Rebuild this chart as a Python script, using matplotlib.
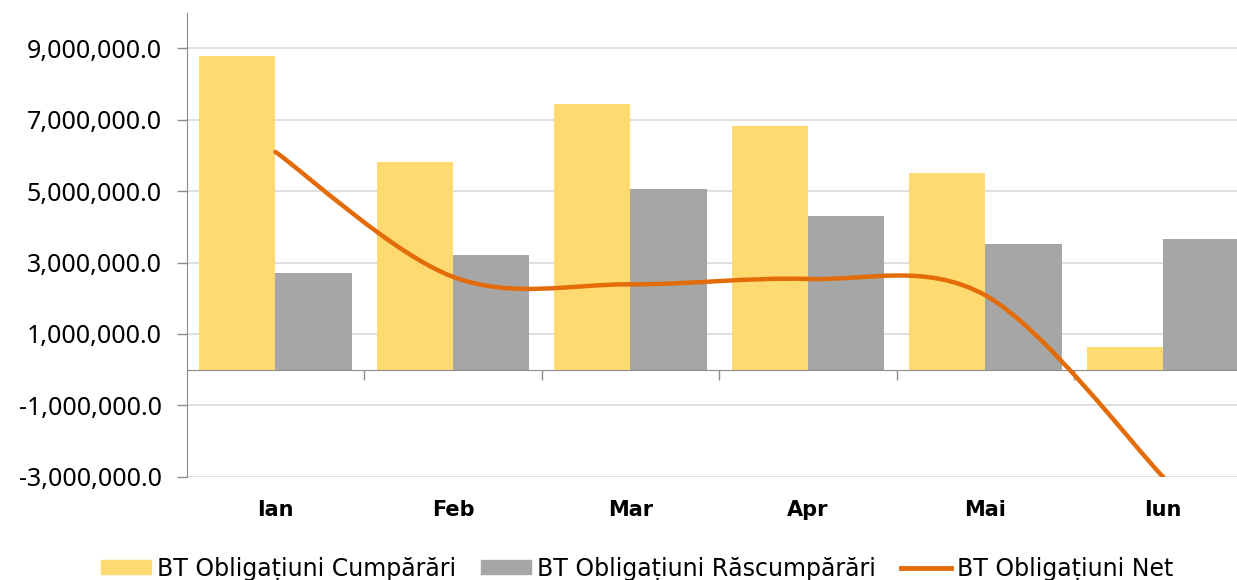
import numpy as np
import matplotlib
matplotlib.use('Agg')
import matplotlib.pyplot as plt
from matplotlib.path import Path
from matplotlib.patches import PathPatch
from matplotlib.lines import Line2D
from matplotlib.ticker import FuncFormatter

months = ['Ian', 'Feb', 'Mar', 'Apr', 'Mai', 'Iun']
cumparari = [8800000, 5820000, 7450000, 6830000, 5510000, 630000]
rascumparari = [2720000, 3200000, 5060000, 4300000, 3510000, 3650000]
net = [6100000, 2600000, 2390000, 2540000, 2080000, -3000000]

yticks = [-3000000, -1000000, 1000000, 3000000, 5000000, 7000000, 9000000]

c_yellow = '#FFDA71'
c_gray = '#A6A6A6'
c_orange = '#E36C09'

plt.rcParams['font.family'] = ['Noto Sans', 'DejaVu Sans']

fig = plt.figure(figsize=(12.37, 5.80), dpi=100)
ax = fig.add_axes([186.7 / 1237, 1 - 476.7 / 580, 1065 / 1237, (476.7 - 12.7) / 580])

x = np.arange(len(months))
w = 0.43
ax.bar(x - w / 2, cumparari, w, color=c_yellow, zorder=2)
ax.bar(x + w / 2, rascumparari, w, color=c_gray, zorder=2)

# smoothed line (Excel style bezier through the points)
pts = np.column_stack([x, net]).astype(float)
ext = np.vstack([pts[0], pts, pts[-1]])
verts = [tuple(pts[0])]
codes = [Path.MOVETO]
for i in range(1, len(ext) - 2):
    p0, p1, p2, p3 = ext[i - 1], ext[i], ext[i + 1], ext[i + 2]
    c1 = p1 + (p2 - p0) / 6
    c2 = p2 - (p3 - p1) / 6
    verts += [tuple(c1), tuple(c2), tuple(p2)]
    codes += [Path.CURVE4] * 3
ax.add_patch(PathPatch(Path(verts, codes), facecolor='none', edgecolor=c_orange,
                       lw=3.2, capstyle='round', zorder=3))

ax.set_xlim(-0.5, 5.5)
ax.set_ylim(-3000000, 10000000)
ax.set_yticks(yticks)
ax.yaxis.set_major_formatter(FuncFormatter(lambda v, p: f'{v:,.1f}'))
ax.grid(axis='y', color='#D9D9D9', lw=1.2, zorder=0)
ax.set_axisbelow(True)

for s in ['top', 'right']:
    ax.spines[s].set_visible(False)
ax.spines['left'].set_color('#8C8C8C')
ax.spines['bottom'].set_color('#8C8C8C')
ax.spines['bottom'].set_position(('data', 0))

ax.set_xticks(np.arange(0.5, 5.5, 1))
ax.set_xticklabels([])
ax.tick_params(axis='x', length=7, width=1, color='#8C8C8C', direction='out')
ax.tick_params(axis='y', length=7, width=1, color='#8C8C8C', pad=11, labelsize=18, labelcolor='#000000')

for i, m in enumerate(months):
    ax.text(i, -0.072, m, transform=ax.get_xaxis_transform(), ha='center', va='center',
            fontsize=15, fontweight='bold', family='DejaVu Sans')

handles = [
    plt.Rectangle((0, 0), 1, 1, color=c_yellow),
    plt.Rectangle((0, 0), 1, 1, color=c_gray),
    Line2D([0], [0], color=c_orange, lw=3.5),
]
labels = ['BT Obligațiuni Cumpărări', 'BT Obligațiuni Răscumpărări', 'BT Obligațiuni Net']
fig.legend(handles, labels, loc='center', bbox_to_anchor=(637 / 1237, 1 - 569 / 580), ncol=3,
           frameon=False, prop={'family': 'DejaVu Sans', 'size': 17},
           handlelength=2.12, handleheight=0.55, handletextpad=0.25,
           columnspacing=1.06, borderpad=0)

fig.savefig('out.png', dpi=100)
